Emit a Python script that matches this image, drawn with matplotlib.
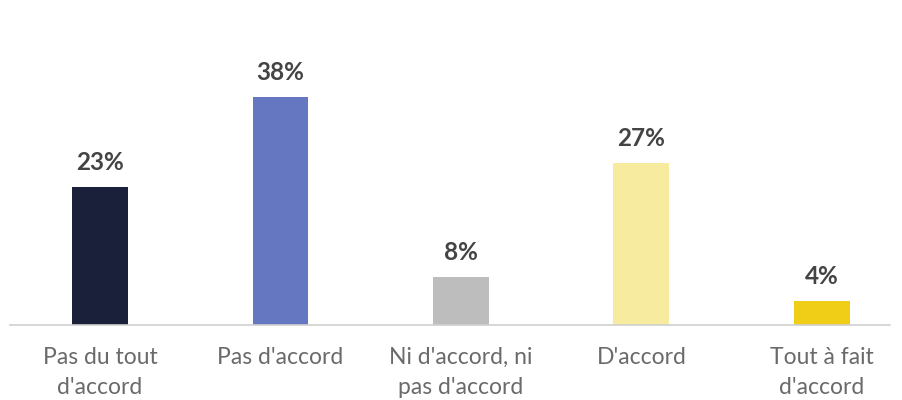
import numpy as np
import matplotlib.pyplot as plt

# * Data
categories = ["Pas du tout\nd'accord", "Pas d'accord", "Ni d'accord, ni\npas d'accord",
              "D'accord", "Tout à fait\nd'accord"]
values = [23, 38, 8, 27, 4]
colors = ["#1a2039", "#6577c1", "#bdbdbd", "#f7eba0", "#f0cd16"]

plt.rcParams['font.family'] = ['Lato', 'DejaVu Sans']

fig = plt.figure(figsize=(9.02, 4.0), dpi=100)
ax = fig.add_axes([10 / 902, 75 / 400, 880 / 902, 270 / 400])
x = np.arange(len(values))
ax.bar(x, values, width=0.31, color=colors, zorder=2)
for xi, v in zip(x, values):
    ax.annotate(f"{v}%", (xi, v), xytext=(0, 9), textcoords="offset points",
                ha="center", va="bottom", fontsize=17.5, fontweight="bold", color="#444444")

ax.set_xlim(-0.4986, 4.377)
ax.set_ylim(0, 45)
ax.set_xticks(x)
ax.set_xticklabels(categories, fontsize=16.5, color="#6a6a6a", linespacing=1.5)
ax.tick_params(axis="x", length=0, pad=16)
ax.set_yticks([])
for s in ["top", "right", "left"]:
    ax.spines[s].set_visible(False)
ax.spines["bottom"].set_color("#d0d0d0")
ax.spines["bottom"].set_linewidth(1.2)

fig.savefig("out.png", dpi=100)
